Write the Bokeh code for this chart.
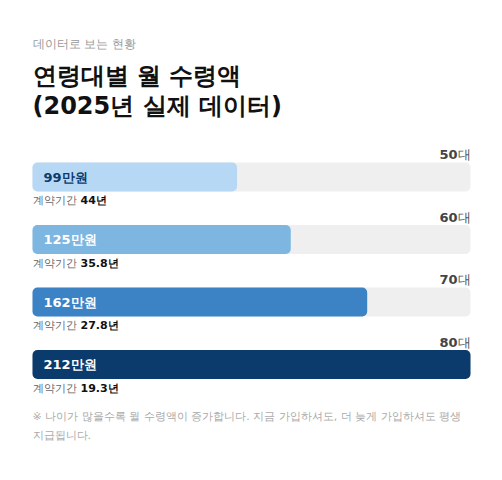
from bokeh.plotting import figure
from bokeh.models import Range1d, ColumnDataSource
from bokeh.core.properties import value
from bokeh.embed import file_html
from bokeh.resources import INLINE

# ---- data ----
ages = ["50", "60", "70", "80"]
age_suffix = "대"
monthly = [99, 125, 162, 212]            # 만원
monthly_labels = ["99만원", "125만원", "162만원", "212만원"]
contract_years = ["44년", "35.8년", "27.8년", "19.3년"]
bar_colors = ["#b7d8f4", "#7db6e0", "#3c83c6", "#0b3b6c"]
label_colors = ["#0b3b6c", "#ffffff", "#ffffff", "#ffffff"]

kicker = "데이터로 보는 현황"
title_lines = ["연령대별 월 수령액", "(2025년 실제 데이터)"]
contract_prefix = "계약기간"
footnote_lines = ["※ 나이가 많을수록 월 수령액이 증가합니다. 지금 가입하셔도, 더 늦게 가입하셔도 평생",
                  "지급됩니다."]

# ---- layout ----
W, H = 486, 464
left_px, right_px = 32, 470
max_val = max(monthly)
k = max_val / (right_px - left_px)
FONT = value("DejaVu Sans")

p = figure(width=W, height=H, output_backend="svg", toolbar_location=None,
           x_range=Range1d(-left_px * k, (W - left_px) * k),
           y_range=Range1d(H, 0), min_border=0)
p.axis.visible = False
p.grid.visible = False
p.outline_line_color = None
p.background_fill_color = "white"
p.border_fill_color = "white"

top0, pitch, bar_h = 162, 62.5, 29
tops = [top0 + i * pitch for i in range(len(ages))]
centers = [t + bar_h / 2 for t in tops]

src = ColumnDataSource(dict(
    y=centers, val=monthly, color=bar_colors, lab=monthly_labels, labc=label_colors,
    age=ages, suf=[age_suffix] * len(ages), ylab=[t - 8 for t in tops],
    yc=[t + 38 for t in tops], pre=[contract_prefix] * len(ages), yrs=contract_years,
    zero=[0] * len(ages), mx=[max_val] * len(ages),
))

# track
p.hbar(y="y", left=0, right="mx", height=bar_h, source=src, fill_color="#efefef",
       line_color=None, border_radius=5)
# bars
p.hbar(y="y", left=0, right="val", height=bar_h, source=src, fill_color="color",
       line_color=None, border_radius=5)

# labels inside bars
p.text(x="zero", y="y", text="lab", source=src, x_offset=11, text_color="labc",
       text_font=FONT, text_font_size="13px", text_font_style="bold",
       text_baseline="middle", text_align="left")
# age labels
p.text(x="mx", y="ylab", text="suf", source=src, text_color="#555555",
       text_font=FONT, text_font_size="13px", text_baseline="middle", text_align="right")
p.text(x="mx", y="ylab", text="age", source=src, x_offset=-13, text_color="#444444",
       text_font=FONT, text_font_size="13px", text_font_style="bold",
       text_baseline="middle", text_align="right")
# contract period
p.text(x="zero", y="yc", text="pre", source=src, text_color="#666666",
       text_font=FONT, text_font_size="11px", text_baseline="middle", text_align="left")
p.text(x="zero", y="yc", text="yrs", source=src, x_offset=48, text_color="#111111",
       text_font=FONT, text_font_size="11px", text_font_style="bold",
       text_baseline="middle", text_align="left")

# header texts
p.text(x=[0], y=[43], text=[kicker], text_color="#999999", text_font=FONT,
       text_font_size="12px", text_baseline="middle", text_align="left")
p.text(x=[0, 0], y=[75, 105], text=title_lines, text_color="#111111", text_font=FONT,
       text_font_size="24px", text_font_style="bold", text_baseline="middle",
       text_align="left")
# footnote
p.text(x=[0, 0], y=[416, 435], text=footnote_lines, text_color="#aaaaaa", text_font=FONT,
       text_font_size="11px", text_baseline="middle", text_align="left")

open("out.html", "w").write(file_html(p, INLINE))
